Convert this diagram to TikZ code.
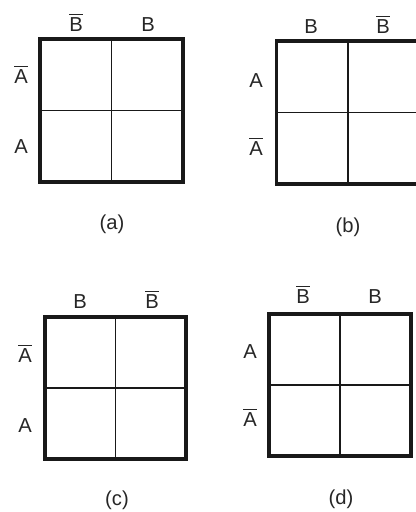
\documentclass[tikz,border=0pt]{standalone}
\usepackage{fontspec}
\setmainfont{Liberation Sans}
\usetikzlibrary{positioning}
\newcommand{\cmp}[1]{$\overline{\mbox{#1}}$}

\begin{document}
\begin{tikzpicture}[
    x=0.02cm, y=-0.02cm,
    kmap/.style={rectangle, draw=black!90, line width=2pt, minimum width=2.86cm, minimum height=2.86cm, outer sep=0pt, inner sep=0pt},
    cell/.style={line width=1pt, draw=black!90},
    lbl/.style={anchor=base, inner sep=1pt, text=black!85, font=\fontsize{11.5}{13}\selectfont}
]
\useasboundingbox (0,0) rectangle (416,512);

% Map (a)
\node (mapa) [kmap] at (111.5,110.5) {};
\draw [cell] (mapa.north) -- (mapa.south);
\draw [cell] (mapa.west) -- (mapa.east);
\node (a-nb) [lbl] at (76,31) {\cmp{B}};
\node (a-b) [lbl] at (148,31) {B};
\node (a-na) [lbl] at (21,83) {\cmp{A}};
\node (a-a) [lbl] at (21,153) {A};
\node (a-cap) [lbl] at (112,229) {(a)};

% Map (b)
\node (mapb) [kmap] at (348,112.5) {};
\draw [cell] (mapb.north) -- (mapb.south);
\draw [cell] (mapb.west) -- (mapb.east);
\node (b-b) [lbl] at (311,33) {B};
\node (b-nb) [lbl] at (383,33) {\cmp{B}};
\node (b-a) [lbl] at (256,87) {A};
\node (b-na) [lbl] at (256,155) {\cmp{A}};
\node (b-cap) [lbl] at (348,232) {(b)};

% Map (c)
\node (mapc) [kmap, minimum width=2.82cm, minimum height=2.84cm] at (115.5,388) {};
\draw [cell] (mapc.north) -- (mapc.south);
\draw [cell] (mapc.west) -- (mapc.east);
\node (c-b) [lbl] at (80,308) {B};
\node (c-nb) [lbl] at (152,308) {\cmp{B}};
\node (c-na) [lbl] at (25,362) {\cmp{A}};
\node (c-a) [lbl] at (25,432) {A};
\node (c-cap) [lbl] at (117,505) {(c)};

% Map (d)
\node (mapd) [kmap, minimum width=2.84cm, minimum height=2.84cm] at (340,385) {};
\draw [cell] (mapd.north) -- (mapd.south);
\draw [cell] (mapd.west) -- (mapd.east);
\node (d-nb) [lbl] at (303,303) {\cmp{B}};
\node (d-b) [lbl] at (375,303) {B};
\node (d-a) [lbl] at (250,358) {A};
\node (d-na) [lbl] at (250,426) {\cmp{A}};
\node (d-cap) [lbl] at (341,504) {(d)};

\end{tikzpicture}
\end{document}
